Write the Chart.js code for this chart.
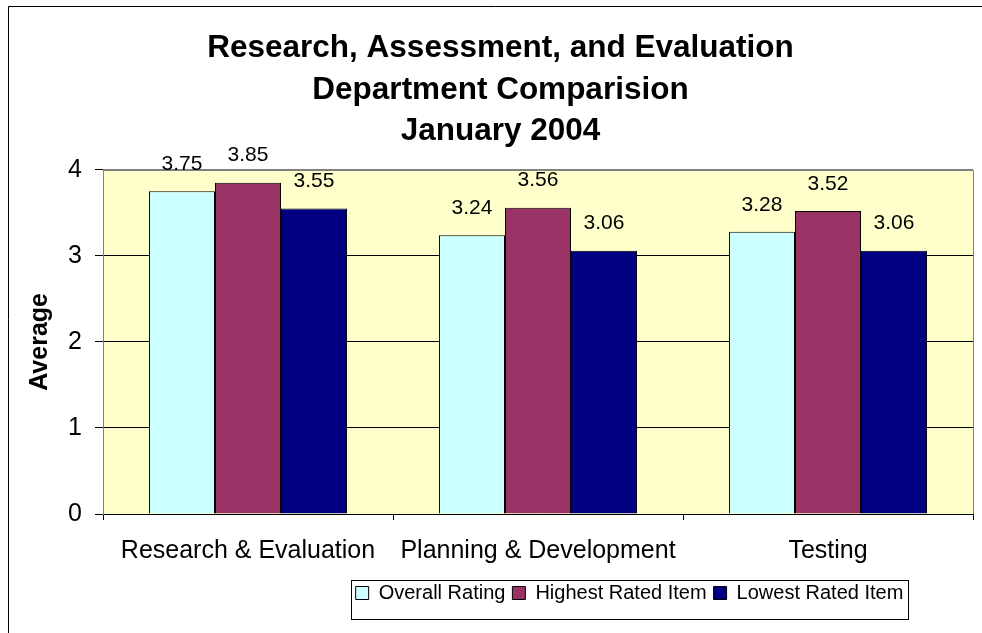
<!DOCTYPE html>
<html>
<head>
<meta charset="utf-8">
<script src="https://cdn.jsdelivr.net/npm/chart.js@4/dist/chart.umd.min.js"></script>
<style>
  html, body { margin: 0; padding: 0; background: #fff; }
  #wrap { width: 982px; height: 633px; position: relative; }
</style>
</head>
<body>
<div id="wrap"><canvas id="chart"></canvas></div>
<script>
// chart data
const categories = ['Research & Evaluation', 'Planning & Development', 'Testing'];
const seriesNames = ['Overall Rating', 'Highest Rated Item', 'Lowest Rated Item'];
const overallRating = [3.75, 3.24, 3.28];
const highestRated = [3.85, 3.56, 3.52];
const lowestRated = [3.55, 3.06, 3.06];
const yTicks = [0, 1, 2, 3, 4];
const titleLines = ['Research, Assessment, and Evaluation', 'Department Comparision', 'January 2004'];

const FONT = '"Liberation Sans", Arial, sans-serif';

// yellow plot area, grey frame, outer chart border
const framePlugin = {
    id: 'frame',
    beforeDraw(chart) {
        const { ctx, chartArea: a } = chart;
        ctx.save();
        ctx.fillStyle = '#FFFFCC';
        ctx.fillRect(a.left, a.top, a.right - a.left, a.bottom - a.top);
        ctx.strokeStyle = '#000';
        ctx.lineWidth = 1;
        ctx.beginPath();
        ctx.moveTo(8.5, 633);
        ctx.lineTo(8.5, 6.5);
        ctx.lineTo(982, 6.5);
        ctx.stroke();
        ctx.restore();
    },
    beforeDatasetsDraw(chart) {
        const { ctx, chartArea: a } = chart;
        ctx.save();
        ctx.strokeStyle = '#808080';
        ctx.lineWidth = 1;
        ctx.beginPath();
        ctx.moveTo(Math.round(a.right) + 0.5, Math.round(a.bottom));
        ctx.lineTo(Math.round(a.right) + 0.5, Math.round(a.top) + 0.5);
        ctx.lineTo(Math.round(a.left), Math.round(a.top) + 0.5);
        ctx.stroke();
        ctx.restore();
    }
};

// value labels above the bars
const valueLabels = {
    id: 'valueLabels',
    afterDatasetsDraw(chart) {
        const ctx = chart.ctx;
        ctx.save();
        ctx.font = '21px ' + FONT;
        ctx.fillStyle = '#000';
        ctx.textAlign = 'center';
        ctx.textBaseline = 'middle';
        chart.data.datasets.forEach((ds, i) => {
            chart.getDatasetMeta(i).data.forEach((bar, j) => {
                ctx.fillText(ds.data[j].toFixed(2), bar.x, bar.y - 27);
            });
        });
        ctx.restore();
    }
};

// nudge legend/title sideways and box the legend
const legendBox = {
    id: 'legendBox',
    afterUpdate(chart) {
        const lg = chart.legend;
        lg.left += 143; lg.right += 143;
        const tb = chart.titleBlock;
        tb.left += 14; tb.right += 14;
    },
    afterDraw(chart) {
        const lg = chart.legend;
        const w = lg.lineWidths[0];
        const pad = lg.options.labels.padding;
        const x0 = (lg.left + pad + lg.right - w) / 2 - 5;
        const x1 = x0 + w + 2;
        const y0 = lg.top + 4;
        const y1 = y0 + 39;
        const ctx = chart.ctx;
        ctx.save();
        ctx.strokeStyle = '#000';
        ctx.lineWidth = 1;
        ctx.strokeRect(Math.round(x0) + 0.5, Math.round(y0) + 0.5, Math.round(x1 - x0), Math.round(y1 - y0));
        ctx.restore();
    }
};

const barStyle = { borderColor: '#000', borderWidth: 1, categoryPercentage: 0.683, barPercentage: 1 };

new Chart(document.getElementById('chart'), {
    type: 'bar',
    data: {
        labels: categories,
        datasets: [
            { label: seriesNames[0], data: overallRating, backgroundColor: '#CCFFFF', ...barStyle },
            { label: seriesNames[1], data: highestRated, backgroundColor: '#993366', ...barStyle },
            { label: seriesNames[2], data: lowestRated, backgroundColor: '#000080', ...barStyle }
        ]
    },
    options: {
        responsive: true,
        maintainAspectRatio: false,
        animation: false,
        layout: { padding: { left: 0, right: 9, top: 0, bottom: 20 } },
        plugins: {
            title: {
                display: true,
                text: titleLines,
                color: '#000',
                font: { family: FONT, size: 31.5, weight: 'bold', lineHeight: 1.31 },
                padding: { top: 28, bottom: 18 }
            },
            legend: {
                position: 'bottom',
                labels: {
                    color: '#000',
                    font: { family: FONT, size: 20 },
                    boxWidth: 13,
                    boxHeight: 13,
                    padding: 7,
                    generateLabels(chart) {
                        return chart.data.datasets.map((ds, i) => ({
                            text: ds.label,
                            fillStyle: ds.backgroundColor,
                            strokeStyle: '#000',
                            lineWidth: 1,
                            datasetIndex: i
                        }));
                    }
                }
            },
            tooltip: { enabled: false }
        },
        scales: {
            x: {
                grid: { display: true, offset: true, drawOnChartArea: false, color: '#000', tickLength: 6 },
                border: { color: '#000' },
                ticks: { color: '#000', font: { family: FONT, size: 25 }, padding: 16, maxRotation: 0, autoSkip: false },
                afterFit(s) { s.height = 62; }
            },
            y: {
                min: 0,
                max: 4,
                afterBuildTicks(s) { s.ticks = yTicks.map(v => ({ value: v })); },
                grid: {
                    color: c => (c.tick && c.tick.value === 4 ? '#808080' : '#000'),
                    tickColor: '#000',
                    tickLength: 8
                },
                border: { color: '#808080' },
                ticks: { color: '#000', font: { family: FONT, size: 25 }, padding: 13 },
                title: {
                    display: true,
                    text: 'Average',
                    color: '#000',
                    font: { family: FONT, size: 25, weight: 'bold' },
                    padding: { top: 25, bottom: 0 }
                },
                afterFit(s) { s.width = 103; }
            }
        }
    },
    plugins: [framePlugin, valueLabels, legendBox]
});
</script>
</body>
</html>
